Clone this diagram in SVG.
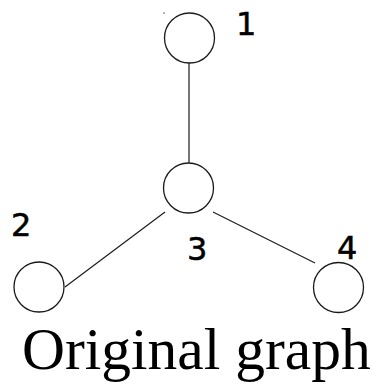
<svg xmlns="http://www.w3.org/2000/svg" width="377" height="391" viewBox="0 0 377 391">
<style>
.node{fill:#fff;stroke:#1a1a1a;stroke-width:1.3}
.edge{stroke:#1a1a1a;stroke-width:1.2;fill:none}
.lbl{font-family:"DejaVu Sans",sans-serif;font-size:32px;fill:#000;stroke:#000;stroke-width:0.5}
.cap{font-family:"Liberation Serif",serif;font-size:59.5px;fill:#000}
</style>
<rect width="377" height="391" fill="#fff"/>
<g id="edges">
<line class="edge" x1="189" y1="63" x2="189" y2="163"/>
<line class="edge" x1="65" y1="287" x2="165" y2="212"/>
<line class="edge" x1="213" y1="212" x2="315" y2="263"/>
</g>
<g id="node1"><circle class="node" cx="189.5" cy="38" r="25"/><text class="lbl" x="236" y="35">1</text></g>
<g id="node2"><circle class="node" cx="39" cy="287" r="25"/><text class="lbl" x="11" y="236">2</text></g>
<g id="node3"><circle class="node" cx="188.5" cy="188" r="25"/><text class="lbl" x="187" y="260">3</text></g>
<g id="node4"><circle class="node" cx="338.5" cy="287.5" r="25"/><text class="lbl" x="337" y="259">4</text></g>
<rect x="163.5" y="12.5" width="1.2" height="1.2" fill="#333"/>
<text class="cap" x="22" y="369">Original graph</text>
</svg>
